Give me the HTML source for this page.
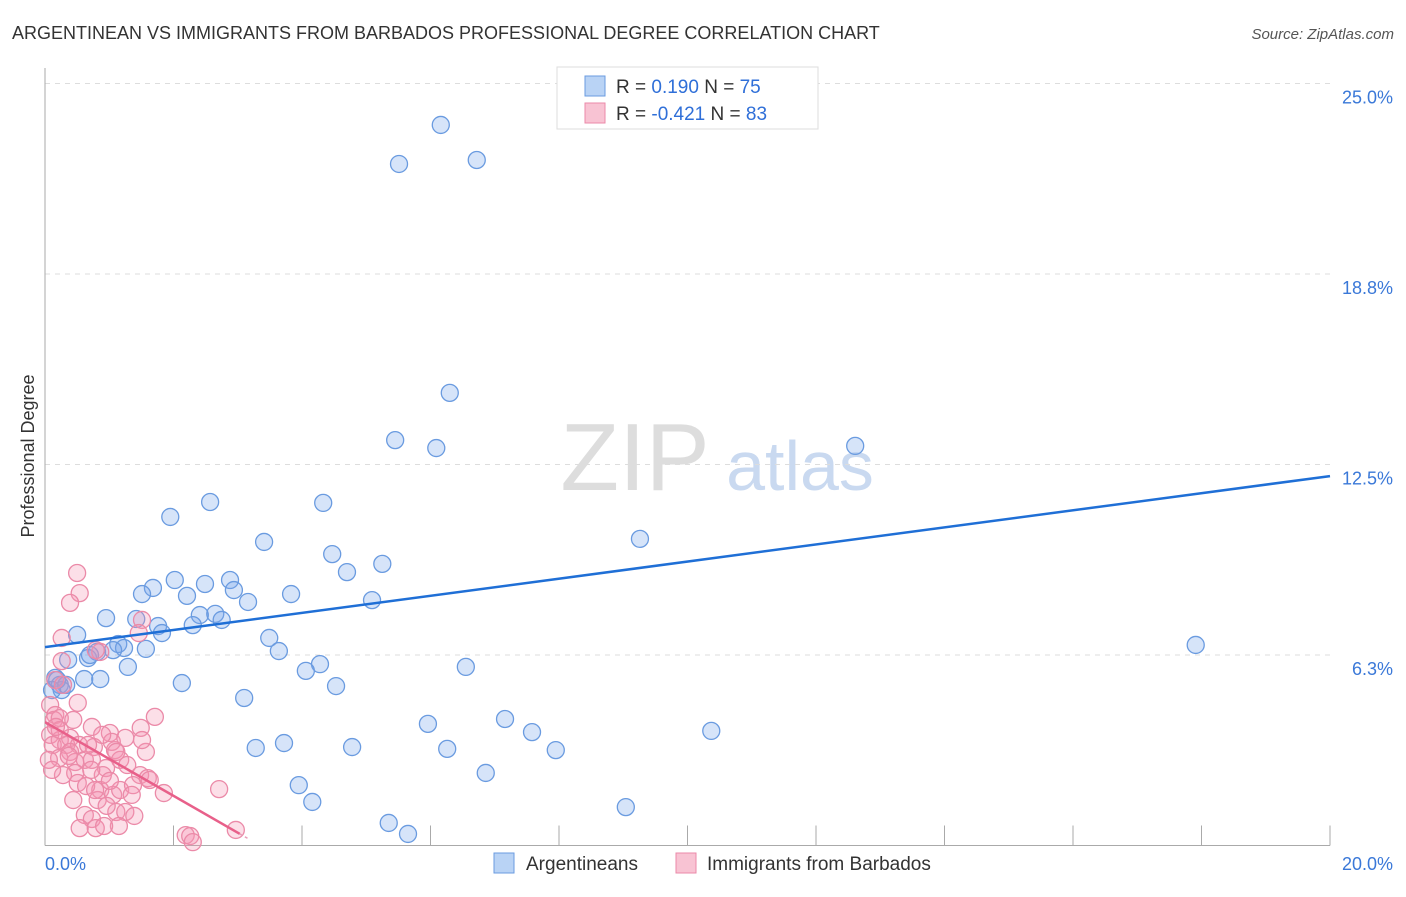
<!DOCTYPE html>
<html><head><meta charset="utf-8"><style>
body{margin:0;background:#fff;font-family:"Liberation Sans",sans-serif}
svg text{font-family:"Liberation Sans",sans-serif}
</style></head><body>
<svg id="chart" width="1406" height="892" viewBox="0 0 1406 892">
<text x="12" y="39" font-size="18" fill="#333">ARGENTINEAN VS IMMIGRANTS FROM BARBADOS PROFESSIONAL DEGREE CORRELATION CHART</text>
<text x="1394" y="39" font-size="15" fill="#555" font-style="italic" text-anchor="end">Source: ZipAtlas.com</text>
<text x="34" y="456" font-size="18" fill="#333" text-anchor="middle" transform="rotate(-90 34 456)">Professional Degree</text>
<g><text x="635" y="490" font-size="96" fill="#ddd" font-family="Liberation Serif" text-anchor="middle">ZIP</text><text x="800" y="490" font-size="70" fill="#c9d9f0" text-anchor="middle">atlas</text></g>
<g id="grid"></g><g id="axes"></g><g id="pts"></g><g id="trend"></g>
<g>
<rect x="557" y="67" width="261" height="62" fill="#fff" stroke="#ddd"/>
<rect x="585" y="76" width="20" height="20" fill="#b9d3f5" stroke="#6a9be0"/>
<rect x="585" y="103" width="20" height="20" fill="#f8c3d3" stroke="#eb8aa8"/>
<text x="616" y="93" font-size="19" fill="#333">R =  <tspan fill="#2f6fd8">0.190</tspan>    N = <tspan fill="#2f6fd8">75</tspan></text>
<text x="616" y="120" font-size="19" fill="#333">R = <tspan fill="#2f6fd8">-0.421</tspan>    N = <tspan fill="#2f6fd8">83</tspan></text>
</g>
<g>
<rect x="494" y="853" width="20" height="20" fill="#b9d3f5" stroke="#6a9be0"/>
<text x="526" y="870" font-size="19" fill="#333">Argentineans</text>
<rect x="676" y="853" width="20" height="20" fill="#f8c3d3" stroke="#eb8aa8"/>
<text x="707" y="870" font-size="19" fill="#333">Immigrants from Barbados</text>
</g>
</svg>
<script>
const yTicks=[6.25,12.5,18.75,25];
const yTickLabels=["6.3%","12.5%","18.8%","25.0%"];
const xTickLabels=["0.0%","20.0%"];
const blueX=[6.16,5.51,6.72,6.30,5.45,6.09,12.61,2.57,4.33,1.95,3.41,9.26,4.47,5.25,4.70,2.02,1.68,2.88,2.49,1.51,2.21,2.94,3.83,3.16,5.09,0.95,1.42,2.41,2.65,2.75,1.76,2.30,1.82,0.50,1.14,1.57,1.23,3.49,3.64,17.91,0.81,1.06,0.67,0.36,0.70,1.29,4.28,4.06,6.55,0.16,0.61,0.86,2.13,4.53,0.23,3.10,5.96,7.16,7.58,10.37,3.28,3.72,4.78,6.26,7.95,6.86,3.95,4.16,9.04,5.35,5.65,0.26,0.11,0.19,0.33,8.17];
const blueY=[23.64,22.36,22.49,14.85,13.30,13.04,13.11,11.27,11.24,10.78,9.96,10.06,9.56,9.24,8.97,8.71,8.45,8.71,8.58,8.25,8.19,8.38,8.25,7.99,8.05,7.46,7.43,7.56,7.60,7.40,7.20,7.23,6.97,6.91,6.61,6.45,6.48,6.81,6.38,6.58,6.35,6.41,6.15,6.09,6.25,5.86,5.95,5.73,5.86,5.50,5.46,5.46,5.33,5.23,5.27,4.84,3.99,4.15,3.72,3.76,3.20,3.36,3.23,3.17,3.13,2.38,1.98,1.43,1.26,0.74,0.38,5.10,5.10,5.43,5.27,24.85];
const pinkX=[0.50,0.54,0.39,1.51,1.46,0.26,0.26,0.86,0.79,0.16,0.28,0.08,0.16,0.51,0.14,0.23,1.71,1.49,0.73,0.08,0.23,0.39,1.01,0.12,0.33,0.53,0.76,1.09,1.57,0.39,0.22,0.47,0.62,0.73,1.17,1.28,0.95,0.90,1.48,1.60,0.47,0.72,0.86,1.06,1.17,0.44,0.82,1.85,2.71,1.37,0.62,0.73,1.11,1.25,1.39,0.54,0.79,1.15,2.19,2.26,2.30,2.97,0.92,0.51,1.01,0.23,0.17,0.67,0.28,1.04,1.25,0.89,0.37,0.64,1.35,0.96,0.06,0.11,1.11,1.51,0.44,0.78,1.63];
const pinkY=[8.94,8.28,7.96,7.40,6.97,6.81,6.05,6.35,6.41,5.43,5.27,4.61,4.28,4.68,4.12,4.18,4.22,3.86,3.89,3.63,3.46,3.53,3.69,3.30,3.30,3.30,3.23,3.13,3.07,3.07,2.87,2.74,2.81,2.81,2.81,2.64,2.54,2.31,2.31,2.21,2.38,2.48,1.82,1.66,1.82,1.49,1.49,1.72,1.85,1.98,1.00,0.87,1.10,1.10,0.97,0.57,0.57,0.64,0.34,0.31,0.11,0.51,0.64,2.05,2.12,3.79,3.89,3.30,2.31,3.40,3.53,3.63,2.94,1.95,1.66,1.30,2.81,2.48,3.07,3.46,4.12,1.82,2.15];
const blueTrend=[6.51,12.12];
const pinkTrend=[4.05,-1.21,3.03];
const X0=45,X1=1330,Y0=845.5,Y25=83.5;
const sx=v=>X0+(X1-X0)*v/20;
const sy=v=>Y0-(Y0-Y25)*v/25;
const NS="http://www.w3.org/2000/svg";
function mk(tag,attrs,parent){const e=document.createElementNS(NS,tag);for(const k in attrs)e.setAttribute(k,attrs[k]);parent.appendChild(e);return e;}
const grid=document.getElementById('grid'),axes=document.getElementById('axes'),pts=document.getElementById('pts'),trend=document.getElementById('trend');
yTicks.forEach((t,i)=>{
 const l=mk('line',{x1:X0,x2:X1+5,y1:sy(t),y2:sy(t),stroke:'#ddd','stroke-dasharray':'5,5'},grid);
 
 
 const tx=mk('text',{x:1393,y:sy(t)+20,'font-size':18,fill:'#3a78d8','text-anchor':'end'},axes);
 tx.textContent=yTickLabels[i];
 
 
});
const ay=mk('line',{x1:X0,x2:X0,y1:68,y2:Y0,stroke:'#aaa'},axes);


const ax=mk('line',{x1:X0,x2:X1,y1:Y0,y2:Y0,stroke:'#aaa'},axes);


for(let i=1;i<=10;i++){
 const t=mk('line',{x1:sx(i*2),x2:sx(i*2),y1:Y0,y2:Y0-20,stroke:'#aaa'},axes);
 
 
}
[[0,'start',45],[20,'end',1393]].forEach((d,i)=>{
 const t=mk('text',{x:d[2],y:870,'font-size':18,fill:'#3a78d8','text-anchor':d[1]},axes);
 t.textContent=xTickLabels[i];
 
 
});
blueX.forEach((x,i)=>{
 const c=mk('circle',{cx:sx(x),cy:sy(blueY[i]),r:8.5,fill:'rgba(120,165,235,0.3)',stroke:'#6a9be0','stroke-width':1.3},pts);
 
 
});
pinkX.forEach((x,i)=>{
 const c=mk('circle',{cx:sx(x),cy:sy(pinkY[i]),r:8.5,fill:'rgba(245,150,180,0.3)',stroke:'#eb8aa8','stroke-width':1.3},pts);
 
 
});
const bl=mk('line',{x1:sx(0),y1:sy(blueTrend[0]),x2:sx(20),y2:sy(blueTrend[1]),stroke:'#1f6fd6','stroke-width':2.5},trend);


const pe=pinkTrend[2];
const pl=mk('line',{x1:sx(0),y1:sy(pinkTrend[0]),x2:sx(pe),y2:sy(pinkTrend[0]+pinkTrend[1]*pe),stroke:'#e8608a','stroke-width':2.5},trend);


const pd=mk('line',{x1:sx(pe),y1:sy(pinkTrend[0]+pinkTrend[1]*pe),x2:sx(pe+0.15),y2:sy(pinkTrend[0]+pinkTrend[1]*(pe+0.15)),stroke:'#e8a0b8','stroke-width':1.5,'stroke-dasharray':'3,3'},trend);


</script>
</body></html>
